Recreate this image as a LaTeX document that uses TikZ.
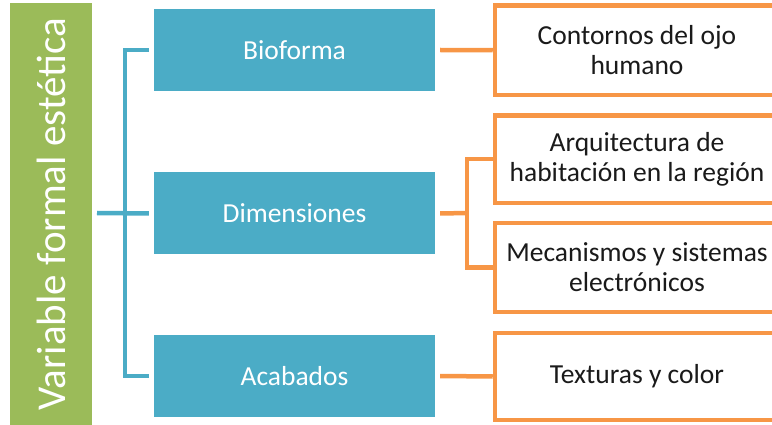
\documentclass[tikz,border=0pt]{standalone}
\usepackage{fontspec}
\setmainfont{Carlito}
\definecolor{vgreen}{HTML}{9BBB59}
\definecolor{vblue}{HTML}{4BACC6}
\definecolor{vorange}{HTML}{F79646}
\definecolor{vtext}{HTML}{1A1A1A}
\tikzset{
  bbox/.style={rectangle, fill=vblue, minimum width=281pt, minimum height=82pt, inner sep=0pt,
    text=white, font=\fontsize{27.5}{30}\selectfont},
  obox/.style={rectangle, draw=vorange, line width=4.5pt, fill=white, minimum width=284pt,
    inner sep=0pt, align=center, text=vtext, font=\fontsize{27.5}{30}\selectfont},
  bline/.style={draw=vblue, line width=4.5pt},
  oline/.style={draw=vorange, line width=4.5pt},
}
\begin{document}
\begin{tikzpicture}[x=1pt,y=-1pt]
\useasboundingbox (0,0) rectangle (772,425);
\clip (0,0) rectangle (772,425);
% left green bar
\node[rectangle, fill=vgreen, rotate=90, minimum width=422pt, minimum height=82pt, inner sep=0pt,
  text=white, font=\fontsize{41}{44}\selectfont] (v) at (51,214) {Variable formal estética};
% blue boxes
\node[bbox] (b1) at (294.5,50) {Bioforma};
\node[bbox] (b2) at (294.5,213.5) {Dimensiones};
\node[bbox] (b3) at (294.5,376) {Acabados};
% orange boxes
\node[obox, minimum height=89.5pt] (o1) at (637,50.25) {Contornos del ojo\\humano};
\node[obox, minimum height=87.5pt] (o2) at (637,159.25) {Arquitectura de\\habitación en la región};
\node[obox, minimum height=89pt] (o3) at (637,267.5) {Mecanismos y sistemas\\electrónicos};
\node[obox, minimum height=87pt] (o4) at (637,376.5) {Texturas y color};
% blue bracket
\coordinate (bx) at (125,213);
\draw[bline] ([xshift=-5pt]b1.west) -- (bx |- b1.west) -- (bx |- b3.west) -- ([xshift=-5pt]b3.west);
\coordinate (vm) at (97,213);
\draw[bline] (vm) -- ([xshift=-5pt]b2.west);
% orange connectors
\draw[oline] ([xshift=5pt]b1.east) -- (o1.west);
\coordinate (ox) at (467,213);
\draw[oline] ([xshift=5pt]b2.east) -- (ox);
\draw[oline] (o2.west) -| (ox) |- (o3.west);
\draw[oline] ([xshift=5pt]b3.east) -- (o4.west);
\end{tikzpicture}
\end{document}
